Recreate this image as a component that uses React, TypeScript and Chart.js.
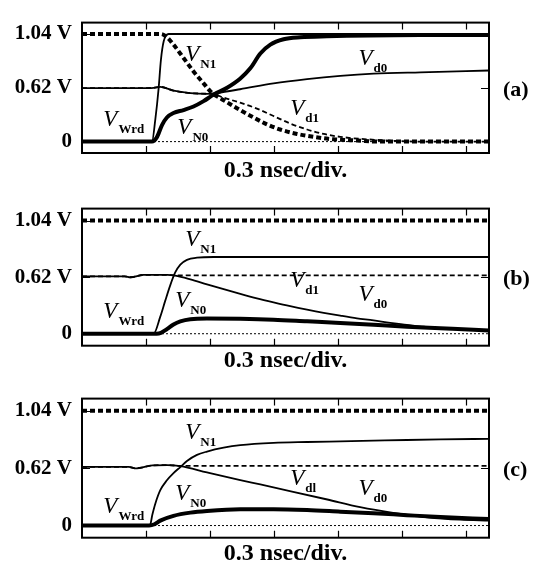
import React, { useEffect, useRef } from "react";
import { Chart, registerables } from "chart.js";
Chart.register(...registerables);

// ---- axes (time in ns, 0.3 ns per division) ----
const X_MAX = 1.908;
const X_DIV_TICKS = [0.3, 0.6, 0.9, 1.2, 1.5, 1.8];
const Y_TICK_VALUES = [0, 0.52, 1.04];
const Y_TICK_LABELS = ["0", "0.62 V", "1.04 V"];
const X_TITLE = "0.3 nsec/div.";

// ---- panel (a) ----
const aWrdT = [0, 0.328, 0.344, 0.359, 0.37, 0.383, 0.406, 1.908];
const aWrdV = [0, 0, 0.22, 0.51, 0.79, 0.97, 1.04, 1.04];
const aN1T = [0, 0.37, 0.398, 0.429, 0.476, 0.523, 0.57, 0.609, 0.648, 0.695, 0.741, 0.804, 0.867, 0.929, 1.008, 1.086, 1.179, 1.289, 1.398, 1.908];
const aN1V = [1.04, 1.04, 1.01, 0.937, 0.808, 0.678, 0.563, 0.471, 0.419, 0.362, 0.305, 0.233, 0.167, 0.117, 0.074, 0.046, 0.022, 0.011, 0, 0];
const aN0T = [0, 0.328, 0.352, 0.375, 0.398, 0.429, 0.476, 0.523, 0.57, 0.617, 0.68, 0.741, 0.789, 0.836, 0.883, 0.945, 1.023, 1.148, 1.586, 1.908];
const aN0V = [0, 0, 0.046, 0.16, 0.233, 0.276, 0.305, 0.339, 0.391, 0.454, 0.52, 0.607, 0.708, 0.851, 0.937, 0.989, 1.009, 1.018, 1.029, 1.03];
const aD0T = [0, 0.27, 0.336, 0.367, 0.429, 0.508, 0.586, 0.633, 0.741, 0.898, 1.055, 1.211, 1.367, 1.586, 1.908];
const aD0V = [0.516, 0.516, 0.52, 0.529, 0.492, 0.469, 0.462, 0.471, 0.506, 0.563, 0.604, 0.635, 0.656, 0.67, 0.687];
const aD1T = [0, 0.27, 0.336, 0.367, 0.429, 0.508, 0.586, 0.617, 0.664, 0.741, 0.82, 0.898, 0.976, 1.055, 1.133, 1.211, 1.336, 1.461, 1.586, 1.908];
const aD1V = [0.516, 0.516, 0.52, 0.529, 0.492, 0.469, 0.462, 0.458, 0.425, 0.376, 0.319, 0.247, 0.175, 0.117, 0.074, 0.046, 0.022, 0.009, 0, 0];

// ---- panel (b) ----
const bWrdT = [0, 0.336, 0.367, 0.39, 0.414, 0.437, 0.461, 0.492, 0.539, 0.617, 1.908];
const bWrdV = [0, 0, 0.157, 0.302, 0.447, 0.563, 0.635, 0.679, 0.699, 0.705, 0.705];
const bN1T = [0, 1.908];
const bN1V = [1.04, 1.04];
const bN0T = [0, 0.35, 0.37, 0.398, 0.429, 0.461, 0.508, 0.586, 0.742, 0.898, 1.055, 1.211, 1.367, 1.523, 1.68, 1.836, 1.908];
const bN0V = [0, 0, 0.008, 0.042, 0.085, 0.114, 0.134, 0.14, 0.137, 0.129, 0.114, 0.099, 0.082, 0.064, 0.05, 0.036, 0.03];
const bD0T = [0, 0.2, 0.227, 0.29, 0.4, 0.437, 0.508, 0.586, 0.664, 0.742, 0.82, 0.898, 0.976, 1.055, 1.133, 1.211, 1.289, 1.367, 1.445, 1.523, 1.602, 1.68, 1.758, 1.908];
const bD0V = [0.528, 0.528, 0.519, 0.54, 0.54, 0.533, 0.499, 0.453, 0.409, 0.366, 0.325, 0.288, 0.253, 0.221, 0.192, 0.166, 0.142, 0.123, 0.099, 0.082, 0.064, 0.053, 0.042, 0.027];
const bD1T = [0, 0.2, 0.227, 0.29, 0.4, 0.437, 1.908];
const bD1V = [0.528, 0.528, 0.519, 0.54, 0.54, 0.537, 0.537];

// ---- panel (c) ----
const cWrdT = [0, 0.318, 0.33, 0.344, 0.367, 0.398, 0.429, 0.461, 0.492, 0.539, 0.586, 0.664, 0.742, 0.898, 1.055, 1.211, 1.367, 1.523, 1.68, 1.908];
const cWrdV = [0, 0, 0.1, 0.2, 0.32, 0.41, 0.475, 0.53, 0.585, 0.64, 0.67, 0.705, 0.728, 0.749, 0.757, 0.763, 0.769, 0.775, 0.78, 0.786];
const cN1T = [0, 1.908];
const cN1V = [1.04, 1.04];
const cN0T = [0, 0.315, 0.34, 0.367, 0.429, 0.508, 0.586, 0.742, 0.898, 1.055, 1.211, 1.367, 1.523, 1.68, 1.908];
const cN0V = [0, 0, 0.012, 0.045, 0.088, 0.117, 0.132, 0.147, 0.147, 0.14, 0.126, 0.112, 0.094, 0.077, 0.059];
const cD0T = [0, 0.22, 0.25, 0.33, 0.4, 0.461, 0.586, 0.742, 0.836, 0.99, 1.15, 1.304, 1.459, 1.618, 1.773, 1.909];
const cD0V = [0.531, 0.531, 0.518, 0.545, 0.548, 0.539, 0.481, 0.411, 0.372, 0.306, 0.236, 0.167, 0.115, 0.075, 0.053, 0.045];
const cD1T = [0, 0.22, 0.25, 0.33, 0.4, 0.461, 1.908];
const cD1V = [0.531, 0.531, 0.518, 0.545, 0.548, 0.54, 0.54];

// zero reference
const zeroT = [0, 1.908];
const zeroV = [0, 0];

// curve labels: [main, subscript, time(ns), volts]
const aLabels: [string, string, number, number][] = [
  ["V", "Wrd", 0.1, 0.149],
  ["V", "N1", 0.484, 0.779],
  ["V", "N0", 0.447, 0.072],
  ["V", "d0", 1.296, 0.736],
  ["V", "d1", 0.976, 0.261],
];
const bLabels: [string, string, number, number][] = [
  ["V", "Wrd", 0.1, 0.142],
  ["V", "N1", 0.484, 0.809],
  ["V", "N0", 0.437, 0.244],
  ["V", "d1", 0.976, 0.433],
  ["V", "d0", 1.296, 0.302],
];
const cLabels: [string, string, number, number][] = [
  ["V", "Wrd", 0.1, 0.117],
  ["V", "N1", 0.484, 0.786],
  ["V", "N0", 0.437, 0.234],
  ["V", "dl", 0.976, 0.365],
  ["V", "d0", 1.296, 0.277],
];

const SERIF = "'Liberation Serif', 'Times New Roman', serif";

type Style = "thin" | "thick" | "thinDash" | "thickDash" | "dot";
const STYLE: Record<Style, { w: number; dash: number[] }> = {
  thin: { w: 1.8, dash: [] },
  thick: { w: 4, dash: [] },
  thinDash: { w: 1.8, dash: [5, 3] },
  thickDash: { w: 4, dash: [5, 3] },
  dot: { w: 1, dash: [2, 2] },
};

function pts(t: number[], v: number[]) {
  return t.map((x, i) => ({ x, y: v[i] }));
}

function ds(label: string, t: number[], v: number[], s: Style, order: number) {
  return {
    label,
    data: pts(t, v),
    borderColor: "#000",
    backgroundColor: "#000",
    borderWidth: STYLE[s].w,
    borderDash: STYLE[s].dash,
    pointRadius: 0,
    fill: false,
    cubicInterpolationMode: "monotone" as const,
    order,
  };
}

interface PanelDef {
  top: number;
  height: number;
  padTop: number;
  padBottom: number;
  titleOffset: number;
  letter: string;
  datasets: any[];
  labels: [string, string, number, number][];
}

const panels: PanelDef[] = [
  {
    top: 0, height: 186, padTop: 7, padBottom: 33, titleOffset: 23.7, letter: "(a)",
    datasets: [
      ds("zero", zeroT, zeroV, "dot", 9),
      ds("V_Wrd", aWrdT, aWrdV, "thin", 5),
      ds("V_d0", aD0T, aD0V, "thin", 6),
      ds("V_d1", aD1T, aD1V, "thinDash", 4),
      ds("V_N0", aN0T, aN0V, "thick", 2),
      ds("V_N1", aN1T, aN1V, "thickDash", 1),
    ],
    labels: aLabels,
  },
  {
    top: 186, height: 190, padTop: 14.7, padBottom: 30.3, titleOffset: 21, letter: "(b)",
    datasets: [
      ds("zero", zeroT, zeroV, "dot", 9),
      ds("V_d1", bD1T, bD1V, "thinDash", 6),
      ds("V_d0", bD0T, bD0V, "thin", 5),
      ds("V_Wrd", bWrdT, bWrdV, "thin", 4),
      ds("V_N0", bN0T, bN0V, "thick", 2),
      ds("V_N1", bN1T, bN1V, "thickDash", 1),
    ],
    labels: bLabels,
  },
  {
    top: 376, height: 188, padTop: 17.3, padBottom: 26.3, titleOffset: 22.3, letter: "(c)",
    datasets: [
      ds("zero", zeroT, zeroV, "dot", 9),
      ds("V_d1", cD1T, cD1V, "thinDash", 6),
      ds("V_d0", cD0T, cD0V, "thin", 5),
      ds("V_Wrd", cWrdT, cWrdV, "thin", 4),
      ds("V_N0", cN0T, cN0V, "thick", 2),
      ds("V_N1", cN1T, cN1V, "thickDash", 1),
    ],
    labels: cLabels,
  },
];

function makeDecor(p: PanelDef) {
  return {
    id: "decor",
    afterDraw(chart: any) {
      const ctx = chart.ctx;
      const a = chart.chartArea;
      const xs = chart.scales.x;
      const ys = chart.scales.y;
      ctx.save();
      // frame
      ctx.strokeStyle = "#000";
      ctx.setLineDash([]);
      ctx.lineWidth = 2;
      ctx.strokeRect(a.left, a.top, a.right - a.left, a.bottom - a.top);
      // inward ticks
      ctx.lineWidth = 1.2;
      ctx.beginPath();
      for (const t of X_DIV_TICKS) {
        const px = Math.round(xs.getPixelForValue(t)) + 0.5;
        ctx.moveTo(px, a.top);
        ctx.lineTo(px, a.top + 7);
        ctx.moveTo(px, a.bottom);
        ctx.lineTo(px, a.bottom - 7);
      }
      for (const v of Y_TICK_VALUES) {
        const py = Math.round(ys.getPixelForValue(v)) + 0.5;
        ctx.moveTo(a.left, py);
        ctx.lineTo(a.left + 8, py);
      }
      const pm = Math.round(ys.getPixelForValue(Y_TICK_VALUES[1])) + 0.5;
      ctx.moveTo(a.right, pm);
      ctx.lineTo(a.right - 8, pm);
      ctx.stroke();

      ctx.fillStyle = "#000";
      // curve labels
      for (const [m, s, t, v] of p.labels) {
        const px = xs.getPixelForValue(t);
        const py = ys.getPixelForValue(v);
        ctx.font = `italic 23px ${SERIF}`;
        ctx.textAlign = "left";
        ctx.textBaseline = "alphabetic";
        ctx.fillText(m, px, py);
        const w = ctx.measureText(m).width;
        ctx.font = `bold 13px ${SERIF}`;
        ctx.fillText(s, px + w + 1, py + 7);
      }
      // x title
      ctx.font = `bold 24px ${SERIF}`;
      ctx.textAlign = "center";
      ctx.textBaseline = "alphabetic";
      ctx.fillText(X_TITLE, (a.left + a.right) / 2, a.bottom + p.titleOffset);
      // panel letter
      ctx.font = `bold 22px ${SERIF}`;
      ctx.textAlign = "left";
      ctx.textBaseline = "middle";
      ctx.fillText(p.letter, a.right + 14, pm + 2);
      ctx.restore();
    },
  };
}

function Panel({ p }: { p: PanelDef }) {
  const ref = useRef<HTMLCanvasElement>(null);
  useEffect(() => {
    if (!ref.current) return;
    const chart = new Chart(ref.current, {
      type: "line",
      data: { datasets: p.datasets },
      options: {
        responsive: false,
        animation: false,
        devicePixelRatio: 1,
        layout: { padding: { top: p.padTop, bottom: p.padBottom, left: 0, right: 50 } },
        plugins: { legend: { display: false }, tooltip: { enabled: false } },
        scales: {
          x: {
            type: "linear",
            min: 0,
            max: X_MAX,
            display: false,
          },
          y: {
            type: "linear",
            min: -0.11,
            max: 1.15,
            afterFit(scale: any) {
              scale.width = 82;
            },
            afterBuildTicks(scale: any) {
              scale.ticks = Y_TICK_VALUES.map((value) => ({ value }));
            },
            grid: { display: false, drawTicks: false },
            border: { display: false },
            ticks: {
              padding: 10,
              color: "#000",
              font: { family: SERIF, size: 21, weight: "bold" },
              callback: (val: any) => {
                const i = Y_TICK_VALUES.indexOf(Number(val));
                return i >= 0 ? Y_TICK_LABELS[i] : "";
              },
            },
          },
        },
      } as any,
      plugins: [makeDecor(p)],
    });
    return () => chart.destroy();
  }, [p]);
  return (
    <canvas
      ref={ref}
      width={539}
      height={p.height}
      style={{ position: "absolute", left: 0, top: p.top, width: 539, height: p.height }}
    />
  );
}

export default function App() {
  return (
    <div style={{ position: "fixed", left: 0, top: 0, width: 539, height: 564, background: "#fff" }}>
      {panels.map((p) => (
        <Panel key={p.letter} p={p} />
      ))}
    </div>
  );
}
